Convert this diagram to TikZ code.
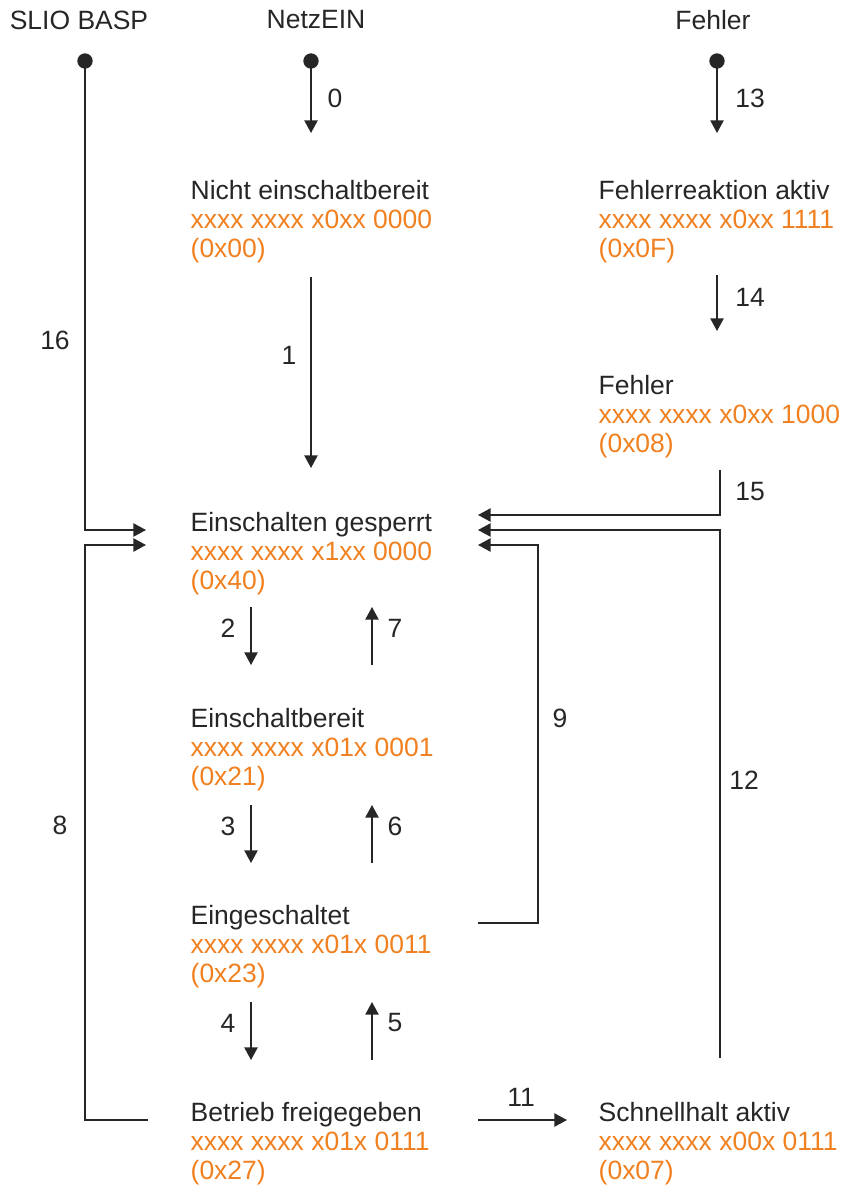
\documentclass[tikz,border=0pt]{standalone}
\usepackage{fontspec}
\setmainfont{Liberation Sans}
\usetikzlibrary{arrows.meta}
\definecolor{txtgray}{RGB}{38,38,38}
\definecolor{codeorange}{RGB}{240,128,32}
\newcommand\orng[1]{\textcolor{codeorange}{#1}}

\begin{document}
\begin{tikzpicture}[x=0.03cm, y=-0.03cm, line width=1.2pt, draw=txtgray,
  every node/.style={text=txtgray, inner sep=0pt,
    font=\fontsize{22.6pt}{24.7pt}\selectfont},
  state/.style={anchor=north west, align=left},
  quelle/.style={circle, fill=txtgray, minimum size=0.46cm},
  pfeil/.style={-{Triangle[length=0.38cm, width=0.4cm]}}]
  \useasboundingbox (0,0) rectangle (850,1187);

  % Eingaenge oben
  \node (basp)   at (79,20)  {SLIO BASP};
  \node (netzein) at (316,20) {NetzEIN};
  \node (fehlerein) at (713,20) {Fehler};
  \node[quelle] (baspdot)   at (85,61)  {};
  \node[quelle] (netzdot)   at (311,61) {};
  \node[quelle] (fehlerdot) at (717,61) {};

  % Zustaende
  \node[state] (nichtbereit) at (190,180)
    {Nicht einschaltbereit\\\orng{xxxx xxxx x0xx 0000}\\\orng{(0x00)}};
  \node[state] (gesperrt) at (190,512)
    {Einschalten gesperrt\\\orng{xxxx xxxx x1xx 0000}\\\orng{(0x40)}};
  \node[state] (bereit) at (190,708)
    {Einschaltbereit\\\orng{xxxx xxxx x01x 0001}\\\orng{(0x21)}};
  \node[state] (eingeschaltet) at (190,905)
    {Eingeschaltet\\\orng{xxxx xxxx x01x 0011}\\\orng{(0x23)}};
  \node[state] (freigegeben) at (190,1102)
    {Betrieb freigegeben\\\orng{xxxx xxxx x01x 0111}\\\orng{(0x27)}};
  \node[state] (reaktion) at (598,180)
    {Fehlerreaktion aktiv\\\orng{xxxx xxxx x0xx 1111}\\\orng{(0x0F)}};
  \node[state] (fehler) at (598,375)
    {Fehler\\\orng{xxxx xxxx x0xx 1000}\\\orng{(0x08)}};
  \node[state] (schnellhalt) at (598,1102)
    {Schnellhalt aktiv\\\orng{xxxx xxxx x00x 0111}\\\orng{(0x07)}};

  % Endpunkte der Uebergaenge
  \coordinate (e0)  at (311,133);
  \coordinate (e13) at (717,133);
  \coordinate (s1)  at (311,277);
  \coordinate (e1)  at (311,468);
  \coordinate (s14) at (717,275);
  \coordinate (e14) at (717,331);
  \coordinate (s15) at (720,470);
  \coordinate (e15) at (478,515);
  \coordinate (s12) at (720,1058);
  \coordinate (e12) at (478,530);
  \coordinate (s9)  at (478,923);
  \coordinate (m9)  at (538,545);
  \coordinate (e9)  at (478,545);
  \coordinate (e16) at (146,530);
  \coordinate (s8)  at (148,1120);
  \coordinate (m8)  at (85,545);
  \coordinate (e8)  at (146,545);
  \coordinate (s11) at (478,1120);
  \coordinate (e11) at (567,1120);

  % Uebergaenge
  \draw[pfeil] (netzdot.center) -- (e0);
  \draw[pfeil] (fehlerdot.center) -- (e13);
  \draw[pfeil] (s1) -- (e1);
  \draw[pfeil] (s14) -- (e14);
  \draw[pfeil] (s15) |- (e15);
  \draw[pfeil] (s12) |- (e12);
  \draw[pfeil] (s9) -| (m9) -- (e9);
  \draw[pfeil] (baspdot.center) |- (e16);
  \draw[pfeil] (s8) -| (m8) -- (e8);
  \draw[pfeil] (s11) -- (e11);

  % Wechsel zwischen den Zustaenden in der Mitte
  \foreach \y/\ab/\auf in {607/2/7, 805/3/6, 1002/4/5} {
    \coordinate (ab\ab s) at (251,\y);
    \coordinate (ab\ab e) at (251,\y+58);
    \coordinate (auf\auf s) at (372,\y+58);
    \coordinate (auf\auf e) at (372,\y);
    \draw[pfeil] (ab\ab s) -- (ab\ab e);
    \draw[pfeil] (auf\auf s) -- (auf\auf e);
    \node (l\ab) at (228,\y+21) {\ab};
    \node (l\auf) at (395,\y+21) {\auf};
  }

  % Nummern
  \node (l0)  at (335,98)  {0};
  \node (l13) at (750,98)  {13};
  \node (l1)  at (289,355) {1};
  \node (l14) at (750,297) {14};
  \node (l15) at (750,492) {15};
  \node (l16) at (55,340)  {16};
  \node (l9)  at (560,718) {9};
  \node (l12) at (744,780) {12};
  \node (l8)  at (60,825)  {8};
  \node (l11) at (521,1097) {11};
\end{tikzpicture}
\end{document}
